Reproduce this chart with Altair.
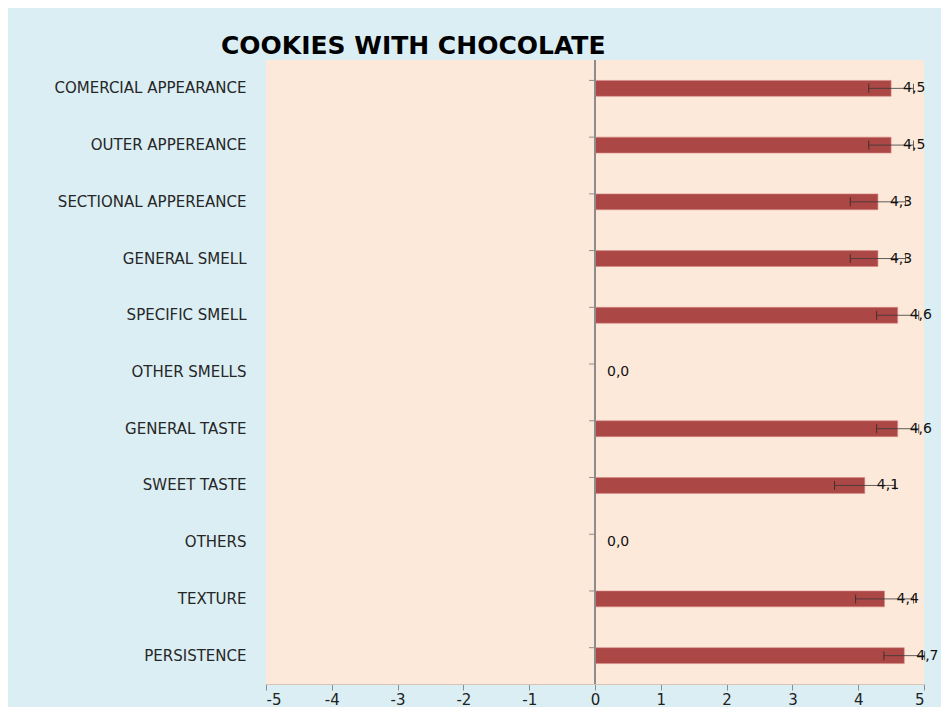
import altair as alt
import pandas as pd

categories = ["COMERCIAL APPEARANCE", "OUTER APPEREANCE", "SECTIONAL APPEREANCE",
              "GENERAL SMELL", "SPECIFIC SMELL", "OTHER SMELLS", "GENERAL TASTE",
              "SWEET TASTE", "OTHERS", "TEXTURE", "PERSISTENCE"]
values = [4.5, 4.5, 4.3, 4.3, 4.6, 0.0, 4.6, 4.1, 0.0, 4.4, 4.7]
errors = [0.34, 0.34, 0.42, 0.42, 0.32, 0.0, 0.32, 0.46, 0.0, 0.44, 0.31]
labels = ["4,5", "4,5", "4,3", "4,3", "4,6", "0,0", "4,6", "4,1", "0,0", "4,4", "4,7"]
x_ticks = [-5, -4, -3, -2, -1, 0, 1, 2, 3, 4, 5]

df = pd.DataFrame({"cat": categories, "val": values, "err": errors, "lab": labels})
df["lo"] = df["val"] - df["err"]
df["hi"] = df["val"] + df["err"]
df_err = df[df["err"] > 0]

FONT = "DejaVu Sans"

xscale = alt.Scale(domain=[-5, 5], nice=False, zero=False)
yscale = alt.Scale(domain=categories, paddingInner=0.72, paddingOuter=0.36)

x_enc = alt.X("val:Q", scale=xscale,
              axis=alt.Axis(values=x_ticks, title=None, grid=False, labelFontSize=15,
                            labelFont=FONT, labelColor="#222222", tickColor="#8c8c8c",
                            tickSize=6, domainColor="#d8c4b6", labelPadding=2,
                            labelExpr="datum.value + ''"))
y_enc = alt.Y("cat:N", scale=yscale, sort=categories,
              axis=alt.Axis(title=None, ticks=False, domain=False, labelFontSize=15,
                            labelFont=FONT, labelColor="#262626", labelPadding=20,
                            labelLimit=300))

bars = alt.Chart(df).mark_bar(color="#ab4745", stroke="#d98c8a", strokeWidth=0.6).encode(
    x=x_enc, x2=alt.datum(0), y=y_enc)

zero_rule = alt.Chart(df).mark_rule(color="#8c8c8c", strokeWidth=1).encode(
    x=alt.datum(0))

ytick = alt.Chart(df).mark_rule(color="#8c8c8c", strokeWidth=1).encode(
    x=alt.datum(0), x2=alt.datum(-0.09),
    y=alt.Y("cat:N", scale=yscale, sort=categories, bandPosition=0))

err_line = alt.Chart(df_err).mark_rule(color="#3a3a3a", strokeWidth=1, opacity=0.8).encode(
    x="lo:Q", x2="hi:Q", y=alt.Y("cat:N", scale=yscale, sort=categories))
err_lo = alt.Chart(df_err).mark_tick(color="#222222", thickness=1, size=9).encode(
    x="lo:Q", y=alt.Y("cat:N", scale=yscale, sort=categories))
err_hi = alt.Chart(df_err).mark_tick(color="#222222", thickness=1, size=9).encode(
    x="hi:Q", y=alt.Y("cat:N", scale=yscale, sort=categories))

text = alt.Chart(df).mark_text(align="left", baseline="middle", dx=12, fontSize=14,
                               font=FONT, color="#111111").encode(
    x="val:Q", y=alt.Y("cat:N", scale=yscale, sort=categories), text="lab:N")

chart = alt.layer(bars, zero_rule, ytick, err_line, err_lo, err_hi, text).properties(
    width=658, height=624,
    title=alt.TitleParams("COOKIES WITH CHOCOLATE", anchor="start", frame="group", dx=-45,
                          fontSize=25, font="DejaVu Sans", fontWeight="bold",
                          color="#000000", offset=1),
    autosize=alt.AutoSizeParams(type="none"),
    padding={"left": 258, "top": 52, "right": 17, "bottom": 23},
).configure(background="#dbeef4").configure_view(fill="#fde9d9", stroke=None)

chart.save("out.html", embed_options={"renderer": "svg", "actions": False})
